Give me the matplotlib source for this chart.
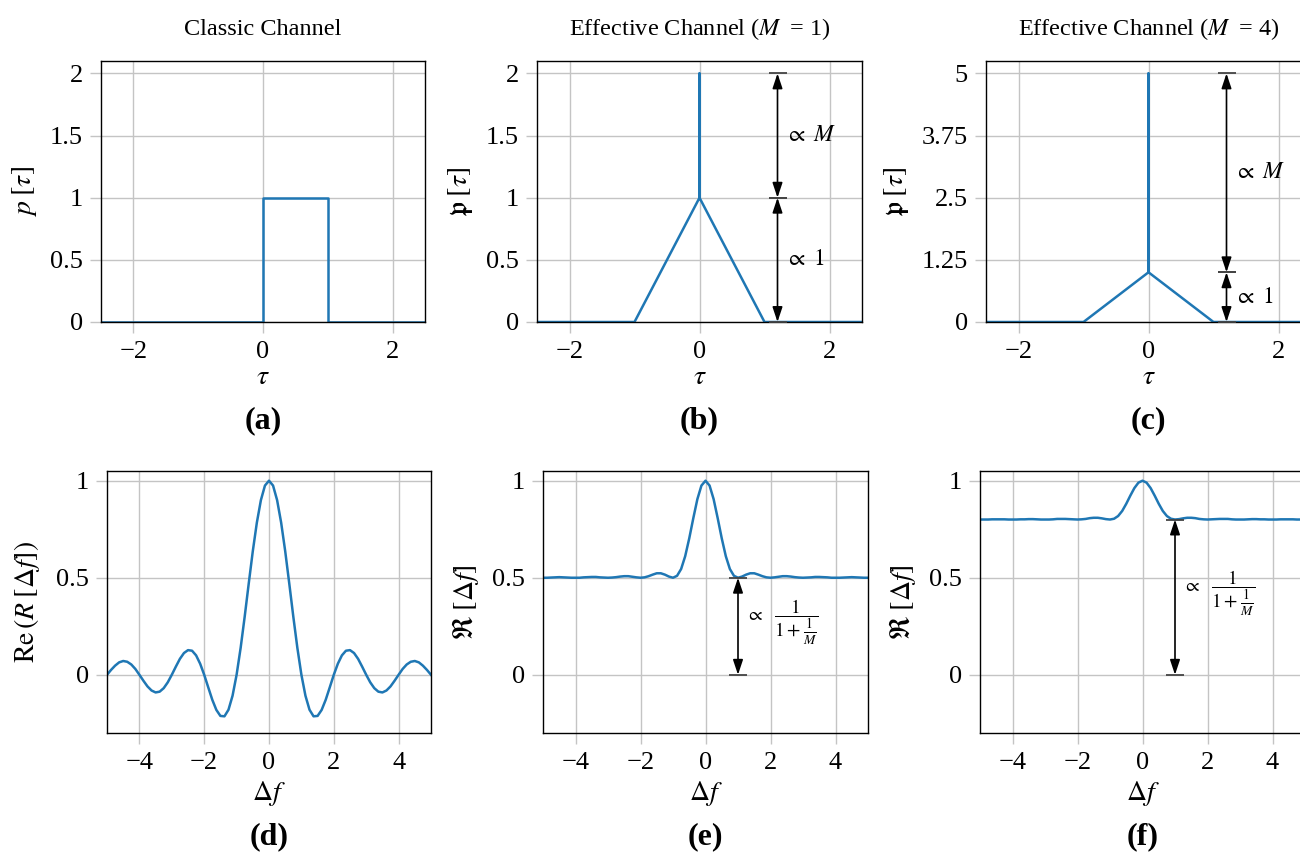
import numpy as np
import matplotlib
matplotlib.use("Agg")
import matplotlib.pyplot as plt

plt.rcParams['font.family'] = ['Liberation Serif', 'DejaVu Serif']
plt.rcParams['mathtext.fontset'] = 'stix'
plt.rcParams['axes.unicode_minus'] = True

# ---------------- data ----------------
tau_a = [-2.5, 0, 0, 1, 1, 2.5]
p_a = [0, 0, 1, 1, 0, 0]
tau_bc = [-2.5, -1, 0, 0, 0, 1, 2.5]
p_b = [0, 0, 1, 2, 1, 0, 0]
p_c = [0, 0, 1, 5, 1, 0, 0]

df = np.linspace(-5, 5, 81)
re_d = [0.000, 0.025, 0.047, 0.064, 0.071, 0.067, 0.053, 0.030,
        0.000, -0.031, -0.060, -0.081, -0.091, -0.087, -0.069, -0.039,
        0.000, 0.042, 0.082, 0.112, 0.127, 0.124, 0.100, 0.057,
        0.000, -0.065, -0.129, -0.181, -0.212, -0.214, -0.180, -0.108,
        0.000, 0.139, 0.300, 0.471, 0.637, 0.784, 0.900, 0.975,
        1.000,
        0.975, 0.900, 0.784, 0.637, 0.471, 0.300, 0.139, 0.000,
        -0.108, -0.180, -0.214, -0.212, -0.181, -0.129, -0.065, 0.000,
        0.057, 0.100, 0.124, 0.127, 0.112, 0.082, 0.042, 0.000,
        -0.039, -0.069, -0.087, -0.091, -0.081, -0.060, -0.031, 0.000,
        0.030, 0.053, 0.067, 0.071, 0.064, 0.047, 0.025, 0.000]
re_e = [0.500, 0.500, 0.501, 0.502, 0.503, 0.502, 0.501, 0.500,
        0.500, 0.500, 0.502, 0.503, 0.504, 0.504, 0.502, 0.501,
        0.500, 0.501, 0.503, 0.506, 0.508, 0.508, 0.505, 0.502,
        0.500, 0.502, 0.508, 0.516, 0.523, 0.523, 0.516, 0.506,
        0.500, 0.510, 0.545, 0.611, 0.703, 0.807, 0.905, 0.975,
        1.000,
        0.975, 0.905, 0.807, 0.703, 0.611, 0.545, 0.510, 0.500,
        0.506, 0.516, 0.523, 0.523, 0.516, 0.508, 0.502, 0.500,
        0.502, 0.505, 0.508, 0.508, 0.506, 0.503, 0.501, 0.500,
        0.501, 0.502, 0.504, 0.504, 0.503, 0.502, 0.500, 0.500,
        0.500, 0.501, 0.502, 0.503, 0.502, 0.501, 0.500, 0.500]
re_f = [0.800, 0.800, 0.800, 0.801, 0.801, 0.801, 0.801, 0.800,
        0.800, 0.800, 0.801, 0.801, 0.802, 0.802, 0.801, 0.800,
        0.800, 0.800, 0.801, 0.803, 0.803, 0.803, 0.802, 0.801,
        0.800, 0.801, 0.803, 0.807, 0.809, 0.809, 0.806, 0.802,
        0.800, 0.804, 0.818, 0.844, 0.881, 0.923, 0.962, 0.990,
        1.000,
        0.990, 0.962, 0.923, 0.881, 0.844, 0.818, 0.804, 0.800,
        0.802, 0.806, 0.809, 0.809, 0.807, 0.803, 0.801, 0.800,
        0.801, 0.802, 0.803, 0.803, 0.803, 0.801, 0.800, 0.800,
        0.800, 0.801, 0.802, 0.802, 0.801, 0.801, 0.800, 0.800,
        0.800, 0.801, 0.801, 0.801, 0.801, 0.800, 0.800, 0.800]

tau_ticks = [-2, 0, 2]
tau_ticklabels = ['\u22122', '0', '2']
df_ticks = [-4, -2, 0, 2, 4]
df_ticklabels = ['\u22124', '\u22122', '0', '2', '4']
yticks_ab = [0, 0.5, 1, 1.5, 2]
yticklabels_ab = ['0', '0.5', '1', '1.5', '2']
yticks_c = [0, 1.25, 2.5, 3.75, 5]
yticklabels_c = ['0', '1.25', '2.5', '3.75', '5']
yticks_def = [0, 0.5, 1]
yticklabels_def = ['0', '0.5', '1']

titles = ['Classic Channel', r'Effective Channel ($M\;$ = 1)', r'Effective Channel ($M\;$ = 4)']
panel_labels = ['(a)', '(b)', '(c)', '(d)', '(e)', '(f)']

# ---------------- figure ----------------
W, H = 1300, 852
fig = plt.figure(figsize=(W / 100, H / 100), dpi=100)

def px_axes(x0, x1, y0, y1):
    return fig.add_axes([x0 / W, 1 - y1 / H, (x1 - x0) / W, (y1 - y0) / H])

BLUE = '#1f77b4'
GRID = '#c4c4c4'
TICK_FS = 19
LAB_FS = 20
LW = 1.8

def style(ax):
    ax.grid(True, color=GRID, lw=1.0)
    ax.set_axisbelow(True)
    ax.tick_params(direction='out', length=8, width=1.0, color=GRID,
                   labelsize=TICK_FS, pad=5)
    ax.tick_params(axis='x', pad=6)
    for s in ax.spines.values():
        s.set_linewidth(1.0)
        s.set_color('black')

top_boxes = [(101, 425), (537, 862), (986, 1311)]
bot_boxes = [(107, 431), (543, 868), (980, 1305)]

axes_top = [px_axes(x0, x1, 61, 322) for x0, x1 in top_boxes]
axes_bot = [px_axes(x0, x1, 471, 733) for x0, x1 in bot_boxes]

# top row
axes_top[0].plot(tau_a, p_a, color=BLUE, lw=LW)
axes_top[1].plot(tau_bc, p_b, color=BLUE, lw=LW)
axes_top[2].plot(tau_bc, p_c, color=BLUE, lw=LW)
for i, ax in enumerate(axes_top):
    style(ax)
    ax.set_xlim(-2.5, 2.5)
    ax.set_xticks(tau_ticks, tau_ticklabels)
    ax.set_xlabel(r'$\tau$', fontsize=LAB_FS, labelpad=1)
    ax.set_title(titles[i], fontsize=17.5, pad=19)
axes_top[0].set_ylim(0, 2.1)
axes_top[1].set_ylim(0, 2.1)
axes_top[2].set_ylim(0, 5.25)
axes_top[0].set_yticks(yticks_ab, yticklabels_ab)
axes_top[1].set_yticks(yticks_ab, yticklabels_ab)
axes_top[2].set_yticks(yticks_c, yticklabels_c)
axes_top[0].set_ylabel(r'$p\;[\tau]$', fontsize=LAB_FS, labelpad=8)
axes_top[1].set_ylabel(r'$\mathfrak{p}\;[\tau]$', fontsize=LAB_FS, labelpad=8)
axes_top[2].set_ylabel(r'$\mathfrak{p}\;[\tau]$', fontsize=LAB_FS, labelpad=8)

# bottom row
axes_bot[0].plot(df, re_d, color=BLUE, lw=LW)
axes_bot[1].plot(df, re_e, color=BLUE, lw=LW)
axes_bot[2].plot(df, re_f, color=BLUE, lw=LW)
for ax in axes_bot:
    style(ax)
    ax.set_xlim(-5, 5)
    ax.set_ylim(-0.3, 1.05)
    ax.set_xticks(df_ticks, df_ticklabels)
    ax.set_yticks(yticks_def, yticklabels_def)
    ax.set_xlabel(r'$\Delta f$', fontsize=LAB_FS, labelpad=3)
axes_bot[0].set_ylabel(r'$\mathrm{Re}\,(R\;[\Delta f])$', fontsize=LAB_FS, labelpad=10)
axes_bot[1].set_ylabel(r'$\Re\;[\Delta f]$', fontsize=LAB_FS, labelpad=8)
axes_bot[2].set_ylabel(r'$\Re\;[\Delta f]$', fontsize=LAB_FS, labelpad=8)

# annotations (double arrows with caps)
def dim_arrow(ax, x, y0, y1):
    ax.annotate('', xy=(x, y1), xytext=(x, y0),
                arrowprops=dict(arrowstyle='<|-|>,head_length=0.75,head_width=0.25',
                                color='black', lw=1.2,
                                mutation_scale=12, shrinkA=0, shrinkB=0),
                zorder=5)
    ax.plot([x, x], [y0, y1], ls='none', marker='_', ms=13, mew=1.3,
            color='#444444', zorder=4)

dim_arrow(axes_top[1], 1.2, 0, 1)
dim_arrow(axes_top[1], 1.2, 1, 2)
axes_top[1].text(1.32, 1.5, r'$\propto\ M$', fontsize=17, va='center', ha='left')
axes_top[1].text(1.32, 0.5, r'$\propto\ 1$', fontsize=17, va='center', ha='left')

dim_arrow(axes_top[2], 1.2, 0, 1)
dim_arrow(axes_top[2], 1.2, 1, 5)
axes_top[2].text(1.32, 3.0, r'$\propto\ M$', fontsize=17, va='center', ha='left')
axes_top[2].text(1.32, 0.5, r'$\propto\ 1$', fontsize=17, va='center', ha='left')

frac = r'$\propto\ \ \dfrac{1}{1+\frac{1}{M}}$'
dim_arrow(axes_bot[1], 1.0, 0, 0.5)
axes_bot[1].text(1.25, 0.27, frac, fontsize=14, va='center', ha='left')
dim_arrow(axes_bot[2], 1.0, 0, 0.8)
axes_bot[2].text(1.25, 0.42, frac, fontsize=14, va='center', ha='left')

# panel labels
for (x0, x1), lab in zip(top_boxes, panel_labels[:3]):
    fig.text((x0 + x1) / 2 / W, 1 - 421 / H, lab, fontsize=23, fontweight='bold',
             ha='center', va='center')
for (x0, x1), lab in zip(bot_boxes, panel_labels[3:]):
    fig.text((x0 + x1) / 2 / W, 1 - 837 / H, lab, fontsize=23, fontweight='bold',
             ha='center', va='center')

fig.savefig('out.png', dpi=100)
